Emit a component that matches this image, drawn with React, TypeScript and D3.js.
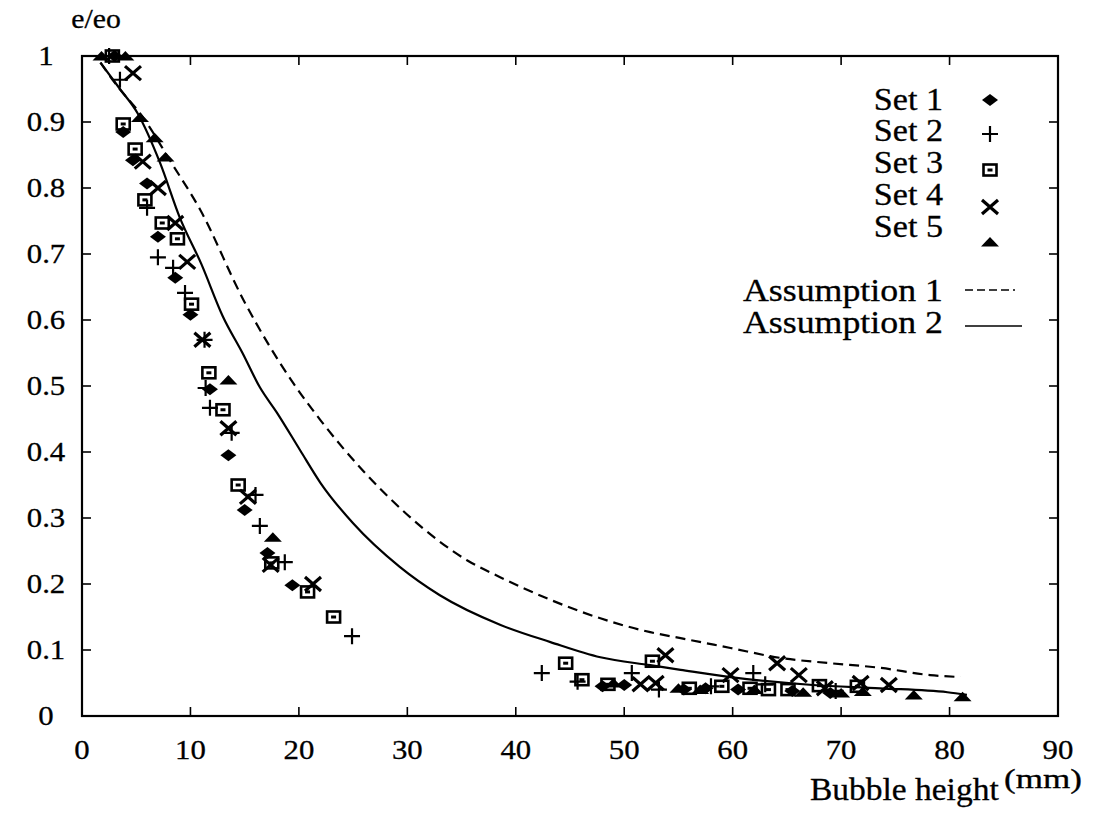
import React from 'react';
import * as d3 from 'd3';

type Pt = [number, number];

// scatter measurements, [bubble height (mm), e/eo]
const set1: Pt[] = [
    [3, 1.0], [3.8, 0.885], [4.7, 0.842], [6.0, 0.807], [7.0, 0.726], [8.6, 0.664],
    [10.0, 0.608], [11.8, 0.495], [13.5, 0.395], [15.0, 0.312], [17.1, 0.247], [19.4, 0.198],
    [48, 0.045], [50, 0.047], [55.5, 0.04], [57.5, 0.042], [60.5, 0.04], [65.5, 0.038], [69, 0.035],
];
const set2: Pt[] = [
    [2.5, 1.0], [3.5, 0.964], [6.0, 0.77], [7.0, 0.695], [8.4, 0.679], [9.5, 0.641],
    [11.3, 0.57], [11.4, 0.497], [11.8, 0.467], [13.8, 0.429], [16.0, 0.335], [16.4, 0.288],
    [18.7, 0.233], [24.9, 0.121], [42.4, 0.065], [45.7, 0.052], [50.7, 0.065], [53.2, 0.04],
    [58, 0.045], [61.9, 0.065], [63, 0.048], [69.5, 0.038],
];
const set3: Pt[] = [
    [2.8, 1.0], [3.8, 0.897], [4.9, 0.859], [5.8, 0.782], [7.4, 0.747], [8.8, 0.723],
    [10.1, 0.624], [11.7, 0.52], [13.0, 0.464], [14.4, 0.35], [17.5, 0.232], [20.8, 0.188],
    [23.2, 0.15], [44.6, 0.08], [46.1, 0.055], [48.5, 0.048], [52.6, 0.083], [56, 0.042],
    [59, 0.045], [61.6, 0.042], [63.3, 0.04], [65.1, 0.04], [68, 0.046], [71.5, 0.045],
];
const set4: Pt[] = [
    [4.7, 0.974], [5.6, 0.84], [7.0, 0.8], [8.6, 0.747], [9.7, 0.688], [11.1, 0.57],
    [13.5, 0.436], [15.3, 0.332], [17.4, 0.229], [21.3, 0.2], [51.5, 0.048], [52.9, 0.05],
    [53.8, 0.092], [59.8, 0.062], [64.1, 0.08], [66.1, 0.062], [68.5, 0.042], [71.8, 0.05], [74.4, 0.047],
];
const set5: Pt[] = [
    [1.8, 1.0], [4, 1.0], [5.35, 0.907], [6.7, 0.876], [7.7, 0.847], [13.5, 0.509],
    [17.6, 0.271], [49, 0.05], [55, 0.042], [57, 0.04], [62, 0.04], [66.5, 0.036],
    [70, 0.035], [72, 0.037], [76.7, 0.032], [81.2, 0.029],
];

// model curves
const assumption1: Pt[] = [
    [1.7, 0.99], [3, 0.96], [5.8, 0.903], [8.1, 0.842], [10.9, 0.767], [14.9, 0.63],
    [19.5, 0.504], [22, 0.448], [26, 0.37], [30, 0.305], [35.5, 0.236], [38.6, 0.21],
    [43.2, 0.176], [47.8, 0.148], [52.4, 0.127], [55.2, 0.118], [59.8, 0.103], [64.4, 0.088],
    [69, 0.08], [73.6, 0.073], [78.2, 0.062], [81, 0.059],
];
const assumption2: Pt[] = [
    [1.7, 0.99], [3.5, 0.95], [5.1, 0.914], [7.2, 0.838], [9, 0.756], [11, 0.685],
    [13, 0.605], [14.8, 0.55], [16.4, 0.498], [18, 0.459], [20.1, 0.403], [22, 0.353],
    [25, 0.292], [29.3, 0.226], [33, 0.183], [38.6, 0.138], [43.2, 0.112], [47.8, 0.089],
    [52.4, 0.077], [55.2, 0.07], [59.8, 0.059], [67.4, 0.047], [73.6, 0.042], [79.8, 0.036], [81.6, 0.032],
];

const xTicks = [0, 10, 20, 30, 40, 50, 60, 70, 80, 90];
const yTicks = [0, 0.1, 0.2, 0.3, 0.4, 0.5, 0.6, 0.7, 0.8, 0.9, 1];
const setNames = ['Set 1', 'Set 2', 'Set 3', 'Set 4', 'Set 5'];
const curveNames = ['Assumption 1', 'Assumption 2'];

const W = 1099;
const H = 819;
const FONT = '"Liberation Serif", "Times New Roman", serif';

type Kind = 'diamond' | 'plus' | 'square' | 'cross' | 'triangle';
const kinds: Kind[] = ['diamond', 'plus', 'square', 'cross', 'triangle'];

const Marker: React.FC<{ kind: Kind; x: number; y: number }> = ({ kind, x, y }) => {
    switch (kind) {
        case 'diamond':
            return <path d={`M${x - 8},${y} L${x},${y - 6} L${x + 8},${y} L${x},${y + 6} Z`} fill="#000" />;
        case 'plus':
            return (
                <path d={`M${x - 8},${y} H${x + 8} M${x},${y - 8} V${y + 8}`} stroke="#000" strokeWidth={2.2} />
            );
        case 'square':
            return (
                <g>
                    <rect x={x - 6.5} y={y - 5.5} width={13} height={11} fill="none" stroke="#000" strokeWidth={2.6} />
                    <rect x={x - 2.5} y={y - 1.5} width={5} height={3} fill="#000" />
                </g>
            );
        case 'cross':
            return (
                <path
                    d={`M${x - 8},${y - 7} L${x + 8},${y + 7} M${x - 8},${y + 7} L${x + 8},${y - 7}`}
                    stroke="#000"
                    strokeWidth={3.2}
                />
            );
        default:
            return <path d={`M${x - 9},${y + 4.5} L${x},${y - 5} L${x + 9},${y + 4.5} Z`} fill="#000" />;
    }
};

// the scan's type is a little wider than Times, so each label is stretched sideways
const Txt: React.FC<{
    x: number;
    y: number;
    size: number;
    anchor?: 'start' | 'middle' | 'end';
    sx?: number;
    children: React.ReactNode;
}> = ({ x, y, size, anchor = 'start', sx = 1.1, children }) => (
    <text
        transform={`translate(${x},${y}) scale(${sx},1)`}
        fontFamily={FONT}
        fontSize={size}
        textAnchor={anchor}
        fill="#000"
        stroke="#000"
        strokeWidth={0.3}
    >
        {children}
    </text>
);

export default function App() {
    const x = d3.scaleLinear().domain([0, 90]).range([82, 1058]);
    const y = d3.scaleLinear().domain([0, 1]).range([716, 56]);

    const line = d3
        .line<Pt>()
        .x((d) => x(d[0]))
        .y((d) => y(d[1]))
        .curve(d3.curveMonotoneX);

    const sets = [set1, set2, set3, set4, set5];
    const tickLen = 9;

    const legendSymY = [100, 134, 170, 207, 242];
    const legendTextY = [110, 141, 173, 205, 237];

    return (
        <svg
            width={W}
            height={H}
            viewBox={`0 0 ${W} ${H}`}
            style={{ position: 'absolute', left: 0, top: 0, background: '#fff' }}
        >
            <rect width={W} height={H} fill="#fff" />

            {/* frame */}
            <rect
                x={x(0)}
                y={y(1)}
                width={x(90) - x(0)}
                height={y(0) - y(1)}
                fill="none"
                stroke="#000"
                strokeWidth={2.2}
            />

            {/* ticks, mirrored on the opposite sides */}
            {xTicks.map((t) => (
                <g key={`xt${t}`}>
                    <line x1={x(t)} x2={x(t)} y1={y(0)} y2={y(0) - tickLen} stroke="#000" strokeWidth={1.6} />
                    <line x1={x(t)} x2={x(t)} y1={y(1)} y2={y(1) + tickLen} stroke="#000" strokeWidth={1.6} />
                    <Txt x={x(t)} y={759} size={28} anchor="middle">
                        {t}
                    </Txt>
                </g>
            ))}
            {yTicks.map((t) => (
                <g key={`yt${t}`}>
                    <line x1={x(0)} x2={x(0) + tickLen} y1={y(t)} y2={y(t)} stroke="#000" strokeWidth={1.6} />
                    <line x1={x(90)} x2={x(90) - tickLen} y1={y(t)} y2={y(t)} stroke="#000" strokeWidth={1.6} />
                    <Txt x={46} y={y(t) + 9} size={28} anchor="middle">
                        {t === 0 || t === 1 ? String(t) : t.toFixed(1)}
                    </Txt>
                </g>
            ))}

            {/* axis titles */}
            <Txt x={96} y={28} size={27} anchor="middle">
                e/eo
            </Txt>
            <Txt x={810} y={800} size={31} sx={1.08}>
                Bubble height
            </Txt>
            <Txt x={1004} y={788} size={27} sx={1.3}>
                (mm)
            </Txt>

            {/* model curves */}
            <path d={line(assumption1) ?? ''} fill="none" stroke="#000" strokeWidth={2.2} strokeDasharray="10,6" />
            <path d={line(assumption2) ?? ''} fill="none" stroke="#000" strokeWidth={2.2} />

            {/* measured points */}
            {sets.map((s, i) => (
                <g key={`set${i}`}>
                    {s.map((d, j) => (
                        <Marker key={j} kind={kinds[i]} x={x(d[0])} y={y(d[1])} />
                    ))}
                </g>
            ))}

            {/* legend */}
            {setNames.map((name, i) => (
                <g key={name}>
                    <Txt x={943} y={legendTextY[i]} size={31} anchor="end">
                        {name}
                    </Txt>
                    <Marker kind={kinds[i]} x={990} y={legendSymY[i]} />
                </g>
            ))}
            <Txt x={943} y={301} size={32} anchor="end" sx={1.12}>
                {curveNames[0]}
            </Txt>
            <line x1={965} x2={1015} y1={290} y2={290} stroke="#000" strokeWidth={1.6} strokeDasharray="8,4" />
            <Txt x={943} y={333} size={32} anchor="end" sx={1.12}>
                {curveNames[1]}
            </Txt>
            <line x1={965} x2={1022} y1={326} y2={326} stroke="#000" strokeWidth={1.6} />
        </svg>
    );
}
